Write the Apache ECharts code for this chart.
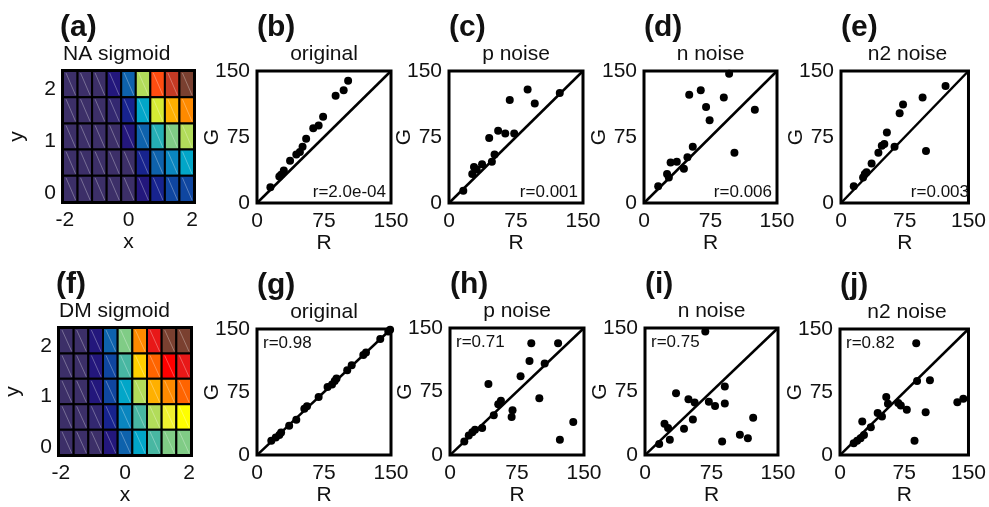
<!DOCTYPE html>
<html>
<head>
<meta charset="utf-8">
<script src="https://cdn.jsdelivr.net/npm/echarts@6/dist/echarts.min.js"></script>
<style>
  html, body { margin: 0; background: #fff; }
  #chart { width: 989px; height: 507px; }
</style>
</head>
<body>
<div id="chart"></div>
<script>
// ---- data ----
const heatXCats = ['-2', '-1.5', '-1', '-0.5', '0', '0.5', '1', '1.5', '2'];
const heatYCats = ['0', '0.5', '1', '1.5', '2'];
const heatXTicks = [-2, 0, 2];
const heatYTicks = [0, 1, 2];
const scatterTicks = [0, 75, 150];
const diag = [0, 150];

// colour level of every cell, rows from y=2 (top) down to y=0
const naSigmoid = [
  [0, 0, 0, 2, 5, 10, 18, 21, 22],
  [0, 0, 0, 1, 3, 7, 11, 15, 16],
  [0, 0, 0, 0, 2, 5, 7.5, 9, 10],
  [0, 0, 0, 0, 0, 3, 5, 6, 7],
  [0, 0, 0, 0, 0, 2, 3, 4, 4]
];
const dmSigmoid = [
  [0, 0, 2, 5, 9, 16, 20, 22, 22],
  [0, 0, 2, 4, 8, 14, 17, 19, 20],
  [0, 0, 2, 4, 7, 10, 15, 16, 17],
  [0, 0, 1, 3, 6, 8, 10, 12, 13],
  [0, 0, 0, 2, 5, 7, 8, 9, 9]
];

// NA sigmoid scatters
const naOrigR = [15, 25, 27, 30, 37, 44, 48, 51, 55, 63, 69, 74, 88, 97, 102];
const naOrigG = [18, 30, 32, 37, 48, 55, 58, 64, 73, 85, 88, 98, 122, 128, 139];
const naPR = [16, 26, 28, 31, 37, 48, 51, 45, 55, 63, 73, 68, 88, 96, 124];
const naPG = [14, 33, 41, 38, 44, 47, 55, 74, 82, 79, 79, 117, 129, 113, 125];
const naNR = [16, 26, 28, 30, 37, 45, 49, 55, 51, 64, 70, 74, 90, 96, 102, 125];
const naNG = [19, 33, 29, 46, 47, 39, 52, 64, 123, 128, 109, 94, 120, 147, 57, 106];
const naN2R = [15, 26, 28, 30, 36, 44, 48, 51, 54, 63, 69, 73, 96, 100, 123];
const naN2G = [19, 29, 33, 35, 45, 57, 65, 67, 80, 64, 102, 112, 120, 59, 133];

// DM sigmoid scatters
const dmOrigR = [16, 21, 25, 27, 36, 44, 53, 56, 69, 79, 84, 87, 89, 101, 106, 119, 122, 138, 147, 149];
const dmOrigG = [17, 21, 24, 27, 35, 42, 55, 58, 69, 81, 84, 88, 91, 101, 107, 119, 122, 138, 147, 149];
const dmPR = [16, 21, 25, 28, 36, 49, 54, 57, 43, 70, 69, 79, 89, 91, 106, 100, 121, 123, 138];
const dmPG = [16, 23, 27, 30, 32, 47, 60, 64, 84, 53, 45, 93, 111, 132, 108, 67, 132, 18, 39];
const dmNR = [16, 22, 26, 28, 35, 44, 49, 54, 56, 68, 72, 79, 90, 90, 87, 107, 116, 122];
const dmNG = [13, 37, 32, 18, 73, 31, 66, 42, 62, 146, 63, 58, 81, 61, 16, 24, 20, 44];
const dmN2R = [16, 20, 24, 28, 26, 36, 44, 49, 54, 56, 68, 71, 78, 89, 90, 105, 100, 87, 137, 144];
const dmN2G = [14, 17, 20, 24, 40, 33, 50, 46, 69, 61, 62, 59, 54, 133, 88, 89, 51, 17, 63, 67];

const naRValues = ['r=2.0e-04', 'r=0.001', 'r=0.006', 'r=0.003'];
const dmRValues = ['r=0.98', 'r=0.71', 'r=0.75', 'r=0.82'];

// ---- styles ----
const palette = [
  '#3c2f68', '#332870', '#23177c', '#17238e', '#0f46a0', '#0e62ac', '#0a86bf', '#02a6c8',
  '#48b7a2', '#80cc86', '#b2dc5a', '#d6ea34', '#f0f030', '#ffff00', '#ffd000', '#ffb000',
  '#ff8a00', '#ff6400', '#ff4c10', '#ff0000', '#e81818', '#c43a24', '#7a4030'
];
const FONT = '"Liberation Sans", Arial, Helvetica, sans-serif';
const INK = '#111';

const grid = [], xAxis = [], yAxis = [], series = [], title = [], visualMap = [];

function text(t, left, top, size, bold, align) {
  title.push({
    text: t, left: left, top: top, padding: 0, textAlign: align || 'left',
    textStyle: { fontFamily: FONT, fontSize: size, fontWeight: bold ? 'bold' : 'normal', color: INK }
  });
}

function labelStyle(margin) {
  return { fontFamily: FONT, fontSize: 21, color: INK, margin: margin };
}

function cellItem(params, api) {
  const c = api.coord([api.value(0), api.value(1)]);
  const s = api.size([1, 1]);
  const x0 = c[0] - s[0] / 2, y0 = c[1] - s[1] / 2;
  return {
    type: 'group',
    children: [
      { type: 'rect', shape: { x: x0, y: y0, width: s[0], height: s[1] },
        style: { fill: api.visual('color'), stroke: '#000', lineWidth: 2 } },
      { type: 'line', shape: { x1: x0 + 3, y1: y0 + 2, x2: x0 + s[0] - 2, y2: y0 + s[1] - 2 },
        style: { stroke: 'rgba(255,255,255,0.3)', lineWidth: 1 } }
    ]
  };
}

function heatPanel(box, levels, tag, name) {
  const gi = grid.length;
  grid.push({ left: box[0], top: box[1], width: box[2], height: box[3],
    show: true, borderColor: '#000', borderWidth: 4, backgroundColor: 'transparent' });
  const xi = xAxis.length, yi = yAxis.length;
  xAxis.push({ type: 'category', gridIndex: gi, data: heatXCats, show: false, position: 'bottom' });
  yAxis.push({ type: 'category', gridIndex: gi, data: heatYCats, show: false, position: 'left' });
  xAxis.push({
    type: 'value', gridIndex: gi, position: 'bottom', min: -2.06, max: 2.06,
    axisLine: { show: false }, axisTick: { show: false }, splitLine: { show: false },
    axisLabel: Object.assign({ customValues: heatXTicks }, labelStyle(8)),
    name: 'x', nameLocation: 'middle', nameGap: 26,
    nameTextStyle: { fontFamily: FONT, fontSize: 21, color: INK }
  });
  yAxis.push({
    type: 'value', gridIndex: gi, position: 'left', min: -0.16, max: 2.35,
    axisLine: { show: false }, axisTick: { show: false }, splitLine: { show: false },
    axisLabel: Object.assign({ customValues: heatYTicks }, labelStyle(7)),
    name: 'y', nameLocation: 'middle', nameGap: 35, nameMoveOverlap: false,
    nameTextStyle: { fontFamily: FONT, fontSize: 21, color: INK }
  });
  const data = [];
  levels.forEach((row, r) => row.forEach((v, c) => data.push([c, levels.length - 1 - r, v])));
  series.push({ type: 'custom', xAxisIndex: xi, yAxisIndex: yi, data: data,
    encode: { x: 0, y: 1 }, renderItem: cellItem, silent: true });
  visualMap.push({ type: 'continuous', show: false, seriesIndex: series.length - 1, dimension: 2,
    min: 0, max: palette.length - 1, inRange: { color: palette } });
  text(tag, box[0] - 3, box[1] - 58, 30, true);
  text(name, box[0], box[1] - 27, 21, false);
}

function scatterPanel(box, R, G, tag, name, rText, rAtBottom, xNameGap) {
  const gi = grid.length;
  grid.push({ left: box[0], top: box[1], width: box[2], height: box[3],
    show: true, borderColor: '#000', borderWidth: 3, backgroundColor: 'transparent' });
  const xi = xAxis.length, yi = yAxis.length;
  xAxis.push({
    type: 'value', gridIndex: gi, min: scatterTicks[0], max: scatterTicks[2],
    interval: scatterTicks[1] - scatterTicks[0],
    axisLine: { show: false }, axisTick: { show: false }, splitLine: { show: false },
    axisLabel: labelStyle(8),
    name: 'R', nameLocation: 'middle', nameGap: xNameGap,
    nameTextStyle: { fontFamily: FONT, fontSize: 21, color: INK }
  });
  yAxis.push({
    type: 'value', gridIndex: gi, min: scatterTicks[0], max: scatterTicks[2],
    interval: scatterTicks[1] - scatterTicks[0],
    axisLine: { show: false }, axisTick: { show: false }, splitLine: { show: false },
    axisLabel: labelStyle(7),
    name: 'G', nameLocation: 'middle', nameGap: 34, nameMoveOverlap: false,
    nameTextStyle: { fontFamily: FONT, fontSize: 21, color: INK }
  });
  series.push({ type: 'line', xAxisIndex: xi, yAxisIndex: yi,
    data: diag.map(v => [v, v]), symbol: 'none', silent: true,
    lineStyle: { color: '#000', width: 2.5 } });
  series.push({ type: 'scatter', xAxisIndex: xi, yAxisIndex: yi,
    data: R.map((r, i) => [r, G[i]]), symbolSize: 8, silent: true,
    itemStyle: { color: '#000', opacity: 1 } });
  text(tag, box[0], box[1] - 58, 30, true);
  text(name, box[0] + box[2] / 2, box[1] - 27, 21, false, 'center');
  if (rAtBottom) text(rText, box[0] + box[2] - 5, box[1] + box[3] - 19, 17, false, 'right');
  else text(rText, box[0] + 6, box[1] + 6, 17, false);
}

heatPanel([63, 71, 131, 131], naSigmoid, '(a)', 'NA sigmoid');
heatPanel([59, 328, 132, 131], dmSigmoid, '(f)', 'DM sigmoid');

scatterPanel([257, 71, 134, 132], naOrigR, naOrigG, '(b)', 'original', naRValues[0], true, 22);
scatterPanel([449, 71, 134, 132], naPR, naPG, '(c)', 'p noise', naRValues[1], true, 22);
scatterPanel([644, 71, 133, 132], naNR, naNG, '(d)', 'n noise', naRValues[2], true, 22);
scatterPanel([841, 71, 133, 132], naN2R, naN2G, '(e)', 'n2 noise', naRValues[3], true, 22);

scatterPanel([257, 329, 134, 132], dmOrigR, dmOrigG, '(g)', 'original', dmRValues[0], false, 24);
scatterPanel([450, 328, 134, 132], dmPR, dmPG, '(h)', 'p noise', dmRValues[1], false, 24);
scatterPanel([645, 328, 133, 132], dmNR, dmNG, '(i)', 'n noise', dmRValues[2], false, 24);
scatterPanel([840, 329, 134, 132], dmN2R, dmN2G, '(j)', 'n2 noise', dmRValues[3], false, 24);

const chart = echarts.init(document.getElementById('chart'));
chart.setOption({
  animation: false,
  backgroundColor: '#fff',
  title: title,
  grid: grid,
  xAxis: xAxis,
  yAxis: yAxis,
  visualMap: visualMap,
  series: series
});
</script>
</body>
</html>
